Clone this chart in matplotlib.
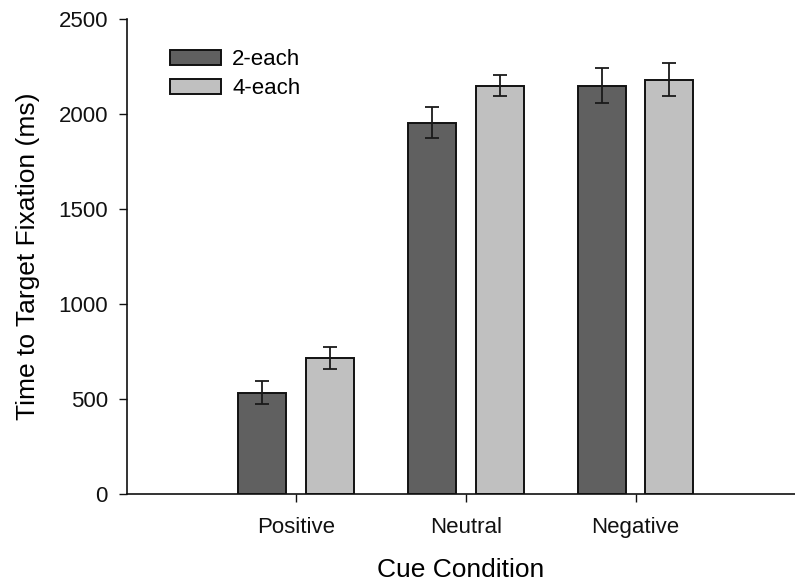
import numpy as np
import matplotlib.pyplot as plt

# values
conditions = ["Positive", "Neutral", "Negative"]
two_each = [535, 1955, 2150]
two_each_err = [60, 82, 90]
four_each = [716, 2149, 2181]
four_each_err = [58, 56, 88]
series_labels = ["2-each", "4-each"]

plt.rcParams['font.family'] = ['Liberation Sans', 'DejaVu Sans']

fig = plt.figure(figsize=(7.95, 5.83), dpi=100)
ax = fig.add_axes([0.1594, 0.1521, 0.8406, 0.8153])

x = np.arange(1, len(conditions) + 1)
w = 0.283
off = 0.2

err_kw = dict(ecolor='#1a1a1a', elinewidth=1.3, capsize=4.7, capthick=1.3)
ax.bar(x - off, two_each, w, yerr=two_each_err, color='#606060',
       edgecolor='#111111', linewidth=1.4, label=series_labels[0],
       error_kw=err_kw, zorder=2)
ax.bar(x + off, four_each, w, yerr=four_each_err, color='#c0c0c0',
       edgecolor='#111111', linewidth=1.4, label=series_labels[1],
       error_kw=err_kw, zorder=2)

ax.set_xlim(0, 3.94)
ax.set_ylim(0, 2500)
ax.set_yticks([0, 500, 1000, 1500, 2000, 2500])
ax.set_xticks(x)
ax.set_xticklabels(conditions)

for s in ['top', 'right']:
    ax.spines[s].set_visible(False)
for s in ['left', 'bottom']:
    ax.spines[s].set_linewidth(1.2)
    ax.spines[s].set_color('#111111')

ax.tick_params(axis='both', direction='out', length=6, width=1.0,
               labelsize=16, colors='#111111')
ax.tick_params(axis='x', pad=10)
ax.tick_params(axis='y', pad=7.5)

ax.set_xlabel("Cue Condition", fontsize=19)
ax.xaxis.set_label_coords(0.5, -0.133)
ax.set_ylabel("Time to Target Fixation (ms)", fontsize=19)
ax.yaxis.set_label_coords(-0.13, 0.5)

ax.legend(loc='upper left', bbox_to_anchor=(0.0515, 0.955), frameon=False,
          fontsize=16, handlelength=2.3, handleheight=0.68,
          labelspacing=0.36, handletextpad=0.5, borderaxespad=0)

fig.savefig("out.png", dpi=100)
